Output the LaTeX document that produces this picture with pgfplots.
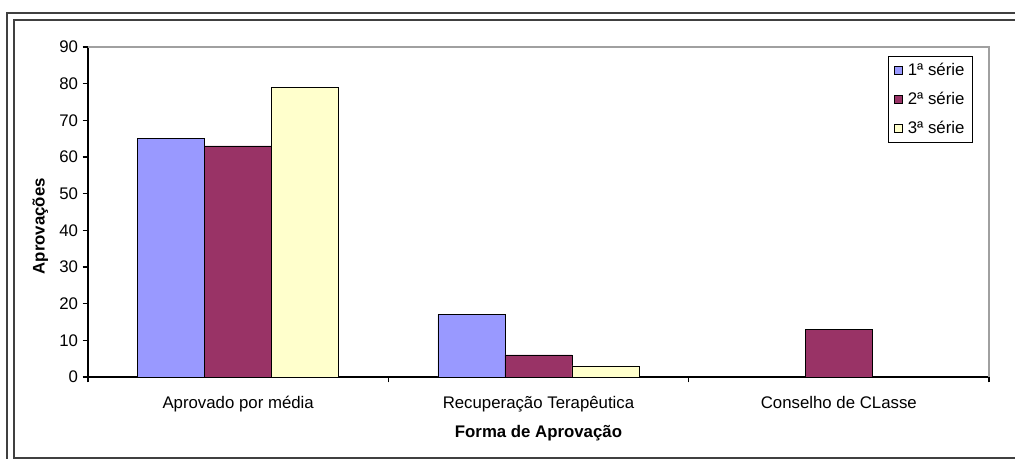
\documentclass[border=0pt]{standalone}
\usepackage{fontspec}
\setmainfont{Liberation Sans}
\usepackage{pgfplots}
\pgfplotsset{compat=1.18}
\definecolor{serieA}{HTML}{9999FF}
\definecolor{serieB}{HTML}{993366}
\definecolor{serieC}{HTML}{FFFFCC}
\definecolor{frame}{HTML}{404040}
\definecolor{plotedge}{HTML}{A0A0A0}

\begin{document}
\begin{tikzpicture}
% page area, 1px = 0.75pt, origin at the lower left of the plot area
\path[use as bounding box] (-66pt,-61.5pt) rectangle (695.25pt,282.75pt);
\draw[frame,line width=0.8pt] (-60.75pt,-70pt) -- (-60.75pt,273pt) -- (700pt,273pt);
\draw[frame,line width=0.8pt] (700pt,-60.75pt) -- (-55.5pt,-60.75pt) -- (-55.5pt,267.75pt) -- (700pt,267.75pt);
\begin{axis}[
    at={(0,0)},anchor=south west,
    scale only axis,
    width=675.75pt,height=247.5pt,
    font=\fontsize{12.6}{15}\selectfont,
    /pgf/number format/assume math mode=true,
    ybar=0pt,
    bar width=50.25pt,
    xmin=-0.5,xmax=2.5,
    ymin=0,ymax=90,
    ytick={0,10,...,90},
    xtick={-0.5,0.5,1.5,2.5},
    xticklabels={},
    extra x ticks={0,1,2},
    extra x tick labels={Aprovado por média,Recuperação Terapêutica,Conselho de CLasse},
    extra x tick style={major tick length=0pt,xticklabel style={yshift=-11pt}},
    axis lines*=left,
    axis line style={-,black,line width=0.8pt},
    tick align=outside,
    major tick length=4pt,
    tick style={black,line width=0.8pt},
    xlabel={\bfseries Forma de Aprovação},
    ylabel={\bfseries Aprovações},
    xlabel style={at={(axis description cs:0.5,-0.17)},anchor=center},
    ylabel style={at={(axis description cs:-0.053,0.457)},anchor=center},
    legend style={at={(0.982,0.973)},anchor=north east,draw=black,
        font=\fontsize{12.6}{15}\selectfont,row sep=7pt,column sep=2pt,
        inner xsep=4pt,inner ysep=3pt},
    legend cell align=left,
    legend image code/.code={\draw[#1,draw=black] (0pt,-3pt) rectangle (6pt,3pt);},
]
\addplot[fill=serieA,draw=black] coordinates {(0,65) (1,17)};
\addlegendentry{1ª série}
\addplot[fill=serieB,draw=black] coordinates {(0,63) (1,6) (2,13)};
\addlegendentry{2ª série}
\addplot[fill=serieC,draw=black] coordinates {(0,79) (1,3)};
\addlegendentry{3ª série}
\end{axis}
\draw[plotedge,line width=0.8pt] (0,247.5pt) -- (675.75pt,247.5pt) -- (675.75pt,0);
\end{tikzpicture}
\end{document}
